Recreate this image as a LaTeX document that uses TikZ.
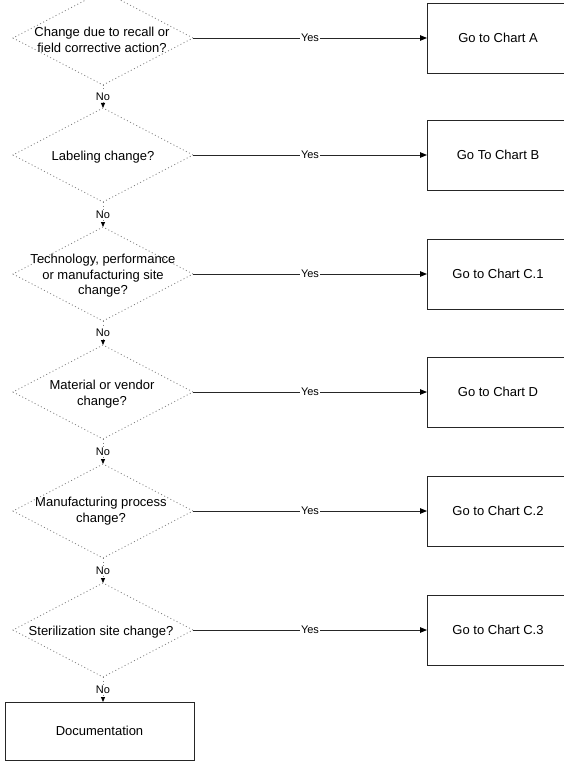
\documentclass[tikz,border=0pt]{standalone}
\usepackage{fontspec}
\setmainfont{Liberation Sans}
\usetikzlibrary{shapes.geometric,arrows.meta}
\begin{document}
\begin{tikzpicture}[x=1pt,y=-1pt,
  decision/.style={diamond,draw=black!50,dash pattern=on 1pt off 2.5pt,line width=0.8pt,
    minimum width=180pt,minimum height=94pt,inner sep=0pt,outer sep=0pt},
  dtext/.style={align=center,font=\fontsize{13}{15.5}\selectfont,inner sep=0pt},
  chartbox/.style={rectangle,draw=black!85,line width=0.9pt,minimum width=142pt,
    minimum height=70pt,inner sep=0pt,outer sep=0pt,font=\fontsize{13}{15.5}\selectfont},
  yesarrow/.style={draw=black!85,line width=0.9pt,-{Triangle[length=7pt,width=5.5pt,black]}},
  noarrow/.style={draw=black!50,dash pattern=on 1pt off 2.5pt,line width=0.8pt,
    -{Triangle[length=5pt,width=4pt,black]}},
  lbl/.style={fill=white,inner sep=1pt,font=\fontsize{11}{13}\selectfont}]
\useasboundingbox (0,0) rectangle (564,762);
% decisions
\node[decision] (d1) at (103,38) {};
\node[decision] (d2) at (103,155) {};
\node[decision] (d3) at (103,274) {};
\node[decision] (d4) at (103,392) {};
\node[decision] (d5) at (103,511) {};
\node[decision] (d6) at (103,630) {};
\node[dtext] (t1) at (102,40) {Change due to recall or\\field corrective action?};
\node[dtext] (t2) at (103,157) {Labeling change?};
\node[dtext] (t3) at (103,276) {Technology, performance\\or manufacturing site\\change?};
\node[dtext] (t4) at (102,394) {Material or vendor\\change?};
\node[dtext] (t5) at (101,511) {Manufacturing process\\change?};
\node[dtext] (t6) at (101,632) {Sterilization site change?};
% chart boxes
\node[chartbox] (a) at (498,38) {Go to Chart A};
\node[chartbox] (b) at (498,155) {Go To Chart B};
\node[chartbox] (c1) at (498,274) {Go to Chart C.1};
\node[chartbox] (dd) at (498,392) {Go to Chart D};
\node[chartbox] (c2) at (498,511) {Go to Chart C.2};
\node[chartbox] (c3) at (498,630) {Go to Chart C.3};
\node[chartbox,minimum width=189pt,minimum height=58pt] (doc) at (99.5,731) {Documentation};
% yes connectors
\draw[yesarrow] (d1.east) -- node[lbl]{Yes} (a.west);
\draw[yesarrow] (d2.east) -- node[lbl]{Yes} (b.west);
\draw[yesarrow] (d3.east) -- node[lbl]{Yes} (c1.west);
\draw[yesarrow] (d4.east) -- node[lbl]{Yes} (dd.west);
\draw[yesarrow] (d5.east) -- node[lbl]{Yes} (c2.west);
\draw[yesarrow] (d6.east) -- node[lbl]{Yes} (c3.west);
% no connectors
\draw[noarrow] (d1.south) -- node[lbl]{No} (d2.north);
\draw[noarrow] (d2.south) -- node[lbl]{No} (d3.north);
\draw[noarrow] (d3.south) -- node[lbl]{No} (d4.north);
\draw[noarrow] (d4.south) -- node[lbl]{No} (d5.north);
\draw[noarrow] (d5.south) -- node[lbl]{No} (d6.north);
\draw[noarrow] (d6.south) -- node[lbl]{No} (doc.north -| d6.south);
\end{tikzpicture}
\end{document}
